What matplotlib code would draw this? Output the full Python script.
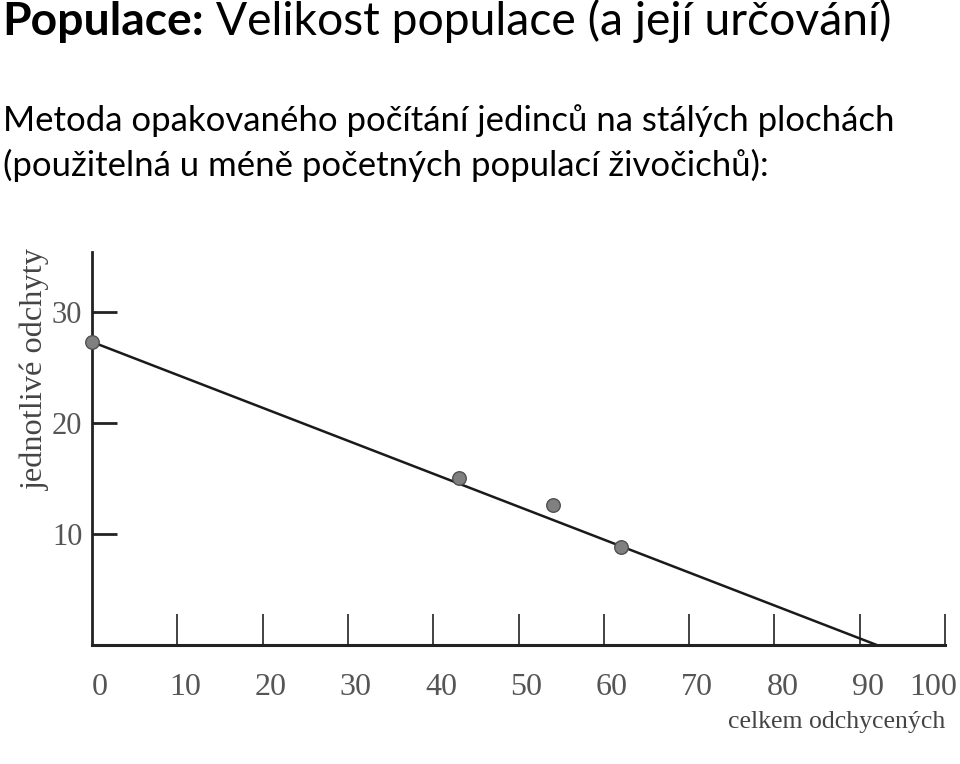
import matplotlib
matplotlib.use("Agg")
import matplotlib.pyplot as plt
from matplotlib.transforms import ScaledTranslation

# data
cumulative_catch = [0, 43, 54, 62]        # celkem odchycených
single_catch = [27.3, 15.0, 12.6, 8.8]    # jednotlivé odchyty
fit_x = [0, 92]
fit_y = [27.3, 0]

x_ticks = [10, 20, 30, 40, 50, 60, 70, 80, 90, 100]
x_labels = ["0", "10", "20", "30", "40", "50", "60", "70", "80", "90", "100"]
y_ticks = [10, 20, 30]

title_bold = "Populace:"
title_rest = " Velikost populace (a její určování)"
subtitle = ["Metoda opakovaného počítání jedinců na stálých plochách",
            "(použitelná u méně početných populací živočichů):"]

W, H = 960, 764
fig = plt.figure(figsize=(W / 100, H / 100), dpi=100)

def fx(px):
    return px / W

def fy(py):
    return 1 - py / H

# headline text
sans = "Lato"
t1 = fig.text(fx(2), fy(35), title_bold, fontsize=33.3, fontweight="bold",
              family=sans, va="baseline", ha="left")
fig.canvas.draw()
bb = t1.get_window_extent()
fig.text(bb.x1 / W, fy(35), title_rest, fontsize=33.3, family=sans,
         va="baseline", ha="left")
fig.text(fx(3), fy(131), subtitle[0], fontsize=25, family=sans, va="baseline")
fig.text(fx(3), fy(176), subtitle[1], fontsize=25, family=sans, va="baseline")

# chart area
ax = fig.add_axes([fx(92), fy(645), fx(945) - fx(92), fy(252) - fy(645)])
ax.set_xlim(0, 100)
ax.set_ylim(0, 35.4)

ax.plot(fit_x, fit_y, color="#1a1a1a", lw=1.8, zorder=2)
ax.scatter(cumulative_catch, single_catch, s=95, color="#808080",
           edgecolor="#505050", linewidth=1, zorder=3, clip_on=False)

for s in ["top", "right"]:
    ax.spines[s].set_visible(False)
ax.spines["left"].set_linewidth(2)
ax.spines["bottom"].set_linewidth(2.2)
ax.spines["left"].set_color("#222222")
ax.spines["bottom"].set_color("#222222")

serif = "Liberation Serif"
ax.set_yticks(y_ticks)
ax.set_yticklabels([str(v) for v in y_ticks], family=serif, fontsize=22,
                   color="#555555")
ax.tick_params(axis="y", direction="in", length=18, width=2, pad=7,
               color="#222222")

ax.set_xticks([0] + x_ticks)
ax.set_xticklabels(x_labels, family=serif, fontsize=23, color="#555555")
ax.tick_params(axis="x", direction="in", length=22, width=1.2, pad=20,
               color="#222222")
ax.xaxis.get_major_ticks()[0].tick1line.set_visible(False)

# nudge the tick labels a little to the right, as in the scan
for i, lab in enumerate(ax.get_xticklabels()):
    shift = 8 if i < len(x_labels) - 1 else 12
    lab.set_transform(lab.get_transform() +
                      ScaledTranslation(shift / 100, 0, fig.dpi_scale_trans))
ax.get_xticklabels()[-1].set_ha("right")

fig.text(fx(35), fy(369), "jednotlivé odchyty", rotation=90, family=serif,
         fontsize=23.3, color="#444444", ha="center", va="center")
fig.text(fx(945), fy(722), "celkem odchycených", family=serif,
         fontsize=18.5, color="#444444", ha="right", va="center")

fig.savefig("out.png", dpi=100)
